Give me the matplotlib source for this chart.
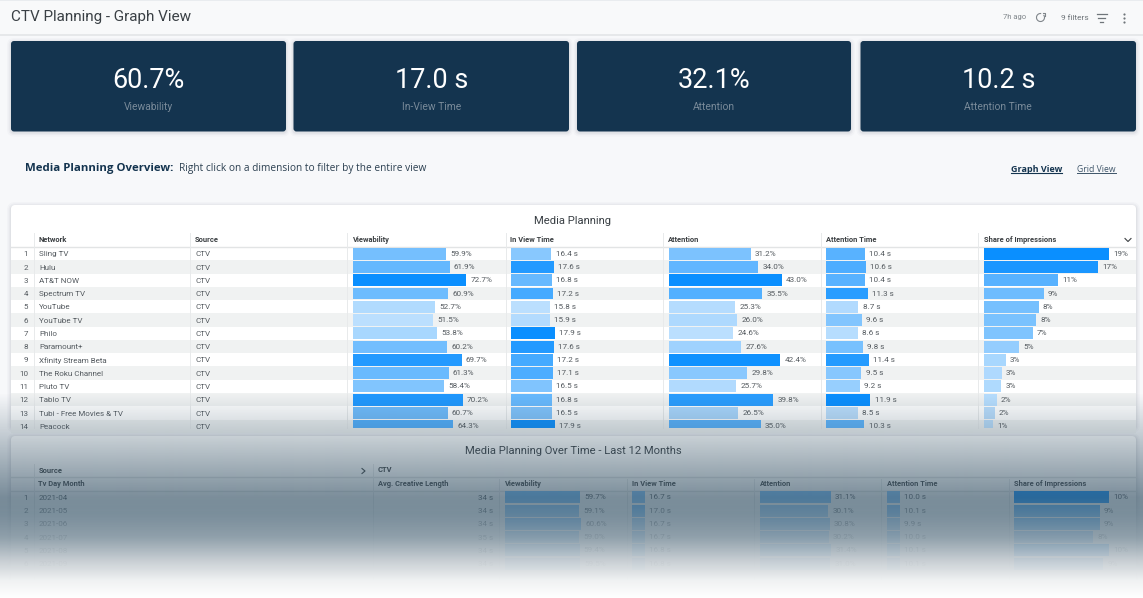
import numpy as np
import matplotlib
matplotlib.use("Agg")
import matplotlib.pyplot as plt
from matplotlib.colors import LinearSegmentedColormap, Normalize
from matplotlib.patches import Arc, FancyBboxPatch, Rectangle

# kpi cards
kpi_values = ["60.7%", "17.0 s", "32.1%", "10.2 s"]
kpi_names = ["Viewability", "In-View Time", "Attention", "Attention Time"]

# top table
networks = ["Sling TV", "Hulu", "AT&T NOW", "Spectrum TV", "YouTube", "YouTube TV", "Philo",
            "Paramount+", "Xfinity Stream Beta", "The Roku Channel", "Pluto TV", "Tablo TV",
            "Tubi - Free Movies & TV", "Peacock"]
viewability = [59.9, 61.9, 72.7, 60.9, 52.7, 51.5, 53.8, 60.2, 69.7, 61.3, 58.4, 70.2, 60.7, 64.3]
in_view = [16.4, 17.6, 16.8, 17.2, 15.8, 15.9, 17.9, 17.6, 17.2, 17.1, 16.5, 16.8, 16.5, 17.9]
attention = [31.2, 34.0, 43.0, 35.5, 25.3, 26.0, 24.6, 27.6, 42.4, 29.8, 25.7, 39.8, 26.5, 35.0]
attention_time = [10.4, 10.6, 10.4, 11.3, 8.7, 9.6, 8.6, 9.8, 11.4, 9.5, 9.2, 11.9, 8.5, 10.3]
share = [19.0, 17.4, 11.2, 9.1, 8.3, 7.9, 7.4, 5.3, 3.3, 2.7, 2.6, 1.9, 1.6, 1.4]

# bottom table
months = ["2021-04", "2021-05", "2021-06", "2021-07", "2021-08", "2021-09"]
creative_length = [34, 34, 34, 35, 34, 34]
viewability_m = [59.7, 59.1, 60.6, 59.0, 59.4, 59.5]
in_view_m = [16.7, 17.0, 16.7, 16.7, 16.8, 16.8]
attention_m = [31.1, 30.1, 30.8, 30.2, 31.4, 31.0]
attention_time_m = [10.0, 10.1, 9.9, 10.0, 10.1, 10.1]
share_m = [10.0, 9.0, 9.0, 8.3, 10.0, 9.4]

metric_names = ["Viewability", "In View Time", "Attention", "Attention Time", "Share of Impressions"]
metric_fmt = ["{:.1f}%", "{:.1f} s", "{:.1f}%", "{:.1f} s", "{:.0f}%"]

NAVY = "#14344f"
PAGE = "#f7f8fa"
ROW_H = 13.27
W, H = 1143, 598
cmap = LinearSegmentedColormap.from_list("bars", ["#bbdffe", "#0a8fff"])

plt.rcParams["font.family"] = ["Roboto", "DejaVu Sans"]


def pt(px):
    return px * 0.72


fig = plt.figure(figsize=(W / 100, H / 100), dpi=100, facecolor=PAGE)
page = fig.add_axes([0, 0, 1, 1], zorder=0)
page.set_xlim(0, W)
page.set_ylim(H, 0)
page.axis("off")


def card(x0, y0, x1, y1, color, radius=3, shadow=True):
    if shadow:
        for grow, alpha in [(4, 0.02), (2.5, 0.03), (1.2, 0.05)]:
            page.add_patch(FancyBboxPatch((x0 - grow, y0 - grow + 1), x1 - x0 + 2 * grow, y1 - y0 + 2 * grow,
                                          boxstyle=f"round,pad=0,rounding_size={radius + grow}",
                                          fc="#1c2b3a", ec="none", alpha=alpha))
    page.add_patch(FancyBboxPatch((x0, y0), x1 - x0, y1 - y0, boxstyle=f"round,pad=0,rounding_size={radius}",
                                  fc=color, ec="none"))


def metric_axes(x0, x1, y0, y1, row0, scale):
    ax = fig.add_axes([x0 / W, 1 - y1 / H, (x1 - x0) / W, (y1 - y0) / H], zorder=2)
    ax.set_xlim(0, (x1 - x0) / scale)
    ax.set_ylim((y1 - row0) / ROW_H, (y0 - row0) / ROW_H)
    ax.axis("off")
    return ax


def draw_bars(x0, x1, y0, y1, row0, scale, values, fmt, color_range=None):
    ax = metric_axes(x0, x1, y0, y1, row0, scale)
    lo, hi = color_range if color_range else (min(values), max(values))
    norm = Normalize(lo, hi)
    bars = ax.barh(range(len(values)), values, height=0.9, color=cmap(norm(values)), edgecolor="none")
    labels = ax.bar_label(bars, fmt=fmt, padding=3, fontsize=pt(8.2), color="#555b60")
    for t in labels:
        t.set_clip_on(True)
        t.set_clip_path(ax.patch)


# title bar
page.add_patch(Rectangle((0, 0), W, 34, fc="#f8f9fa", ec="none"))
page.add_patch(Rectangle((0, 0), W, 1, fc="#e9ecef", ec="none"))
page.add_patch(Rectangle((0, 34), W, 1.5, fc="#e6e8ea", ec="none"))
page.text(11, 17.5, "CTV Planning - Graph View", fontsize=pt(15.2), color="#3a4045", va="center")
page.text(1015, 17.5, "7h ago", fontsize=pt(7.6), color="#80868b", va="center", ha="center")
page.add_patch(Arc((1040.5, 17.5), 8, 8, theta1=-40, theta2=280, color="#80868b", lw=0.8))
page.plot([1043, 1045, 1045], [12.5, 12.5, 15.5], color="#80868b", lw=0.8)
page.text(1075, 17.5, "9 filters", fontsize=pt(8.3), color="#6f757a", va="center", ha="center")
for dy, half in [(-4, 5), (0, 3.2), (4, 1.5)]:
    page.plot([1101.5 - half, 1101.5 + half], [17.5 + dy, 17.5 + dy], color="#6f757a", lw=0.9)
page.scatter([1124] * 3, [13.5, 18, 22], s=2.5, color="#6f757a", lw=0)

# kpi cards
card_edges = [(11, 286), (293.5, 569), (577, 851), (860.5, 1136)]
for (x0, x1), val, name in zip(card_edges, kpi_values, kpi_names):
    card(x0, 41, x1, 131.5, NAVY)
    mid = (x0 + x1) / 2
    page.text(mid, 80, val, fontsize=pt(27), color="white", ha="center", va="center")
    page.text(mid, 107, name, fontsize=pt(10.3), color="#7a8b9a", ha="center", va="center")

# section heading
page.text(25, 169, "Media Planning Overview:", family="Open Sans", weight="bold", fontsize=pt(11.35),
          color=NAVY, va="center")
page.text(179, 169, "Right click on a dimension to filter by the entire view", family="Open Sans",
          fontsize=pt(10.1), color="#2b3f50", va="center")
page.text(1011, 169, "Graph View", family="Open Sans", weight="bold", fontsize=pt(9.0), color=NAVY, va="center")
page.plot([1011, 1062], [173, 173], color=NAVY, lw=0.8)
page.text(1077, 169, "Grid View", family="Open Sans", fontsize=pt(8.7), color="#3d5468", va="center")
page.plot([1077, 1116], [173, 173], color="#3d5468", lw=0.7)

# top table
card(11, 205, 1136, 428, "white", radius=4)
clip_top = Rectangle((11, 205), 1125, 223, transform=page.transData)
page.text(573, 220.5, "Media Planning", fontsize=pt(11.3), color="#3a4045", ha="center", va="center")
row0 = 253.7
for i in range(1, len(networks), 2):
    page.add_patch(Rectangle((11, row0 + (i - 0.5) * ROW_H), 1125, ROW_H, fc="#f0f2f2", ec="none", clip_path=clip_top))
page.plot([11, 1136], [246.5, 246.5], color="#e2e4e5", lw=1)
dividers = [33.5, 189.5, 347, 506, 662.5, 820.7, 977.5]
for x in dividers:
    page.plot([x, x], [233, 428], color="#e8eaeb", lw=0.7)

head = dict(fontsize=pt(7.5), weight="bold", color="#3c4043", va="center")
page.text(38.5, 239.5, "Network", **head)
page.text(195, 239.5, "Source", **head)
starts = [353, 511, 668.7, 826, 984]
for x, name in zip(starts, metric_names):
    page.text(x - 0.5, 239.5, name, **head)
page.plot([1125, 1128, 1131], [238.5, 241.5, 238.5], color="#3c4043", lw=0.8)

body = dict(fontsize=pt(7.95), color="#555b60", va="center")
for i, name in enumerate(networks):
    y = row0 + i * ROW_H + 0.6
    for t in [page.text(28, y, str(i + 1), ha="right", **body),
              page.text(39, y, name, **body),
              page.text(195, y, "CTV", **body)]:
        t.set_clip_path(clip_top)

top_series = [viewability, in_view, attention, attention_time, share]
top_scales = [1.56, 2.46, 2.63, 3.73, 6.58]
top_ends = [505, 661, 819, 976, 1136]
for x0, x1, s, series, fmt in zip(starts, top_ends, top_scales, top_series, metric_fmt):
    draw_bars(x0, x1, 247.5, 428, row0, s, series, fmt)

# bottom table
card(11, 436, 1136, 606, "white", radius=4)
page.text(573, 451, "Media Planning Over Time - Last 12 Months", fontsize=pt(11.3), color="#3a4045",
          ha="center", va="center")
row0_m = 497.3
page.text(38.5, 471, "Source", **head)
page.plot([362, 365, 362], [468.5, 471, 473.5], color="#3c4043", lw=0.8)
page.text(378, 470, "CTV", **head)
page.text(38.5, 484, "Tv Day Month", **head)
page.text(378, 484, "Avg. Creative Length", **head)
page.plot([11, 1136], [477, 477], color="#e2e4e5", lw=1)
page.plot([11, 1136], [490.5, 490.5], color="#e2e4e5", lw=1)
page.plot([33.5, 33.5], [464, 606], color="#e8eaeb", lw=0.7)
for x in [372.7, 498.5, 626.6, 753.5, 881, 1008.6]:
    page.plot([x, x], [479 if x > 373 else 464, 606], color="#e8eaeb", lw=0.7)

starts_m = [505, 632, 759.7, 887, 1014]
for x, name in zip(starts_m, metric_names):
    page.text(x, 484, name, **head)
for i, (month, length) in enumerate(zip(months, creative_length)):
    y = row0_m + i * ROW_H + 0.6
    page.text(28, y, str(i + 1), ha="right", **body)
    page.text(39, y, month, **body)
    page.text(493, y, f"{length} s", ha="right", **body)

bottom_series = [viewability_m, in_view_m, attention_m, attention_time_m, share_m]
bottom_scales = [1.256, 0.78, 2.28, 1.3, 9.5]
bottom_ends = [626, 753, 880, 1008, 1136]
# the 12 month table runs over more rows than are visible, so its colour range is wider
bottom_color_ranges = [(55, 66), (16, 18), (28, 36), (9.5, 11), (7, 10)]
for x0, x1, s, series, fmt, rng in zip(starts_m, bottom_ends, bottom_scales, bottom_series, metric_fmt,
                                       bottom_color_ranges):
    draw_bars(x0, x1, 491, 570, row0_m, s, series, fmt, rng)

# fade over the lower part of the page
stop_y = [393, 436, 470, 497, 515, 537, 560, 580, 598]
stop_a = [0.0, 0.28, 0.50, 0.67, 0.80, 0.92, 0.97, 1.0, 1.0]
stop_rgb = np.array([(58, 86, 105), (58, 86, 105), (58, 86, 105), (58, 86, 105), (90, 115, 131),
                     (134, 152, 164), (197, 204, 209), (239, 241, 242), (255, 255, 255)]) / 255
ys = np.arange(H) + 0.5
fade = np.zeros((H, 1, 4))
for c in range(3):
    fade[:, 0, c] = np.interp(ys, stop_y, stop_rgb[:, c])
fade[:, 0, 3] = np.interp(ys, stop_y, stop_a)
over = fig.add_axes([0, 0, 1, 1], zorder=5)
over.imshow(fade, aspect="auto", extent=(0, W, H, 0), interpolation="bilinear")
over.axis("off")

fig.savefig("out.png", dpi=100, facecolor=PAGE)
